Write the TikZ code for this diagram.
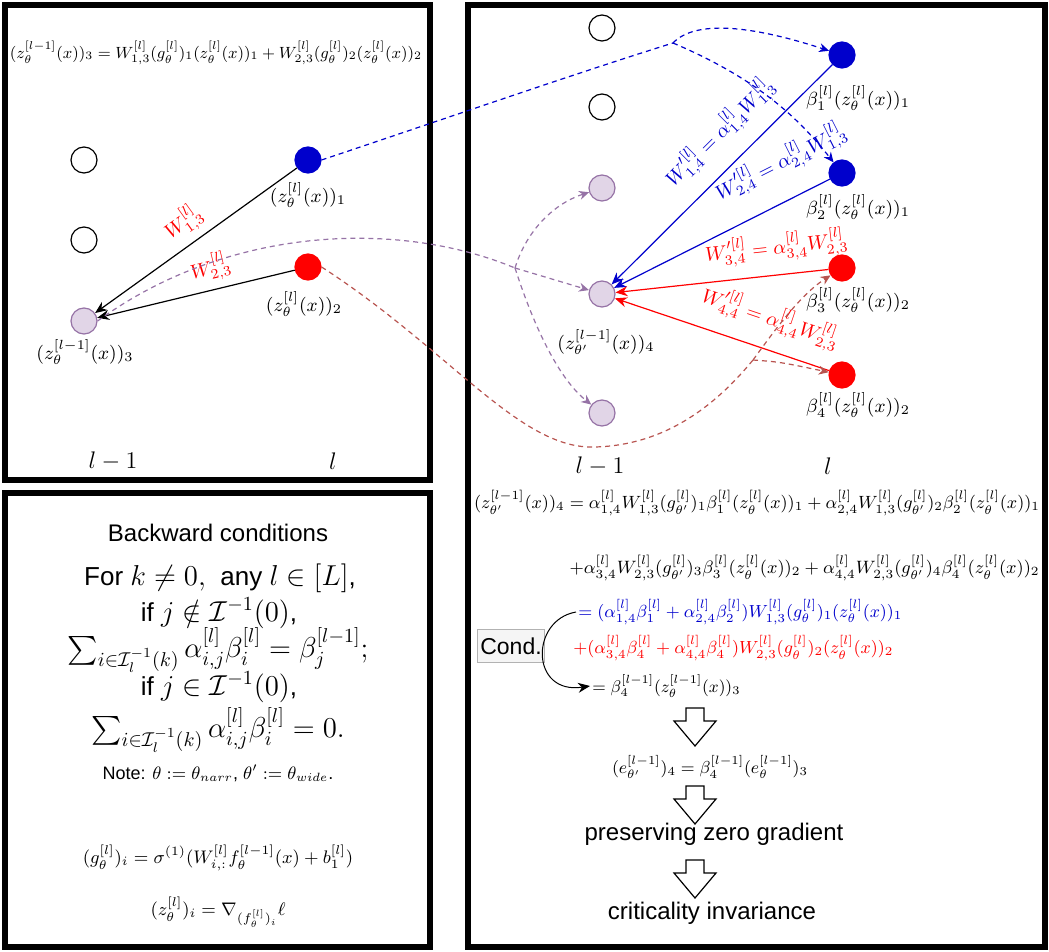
\RequirePackage{fix-cm}
\documentclass[tikz,border=0pt]{standalone}
\usepackage{amsmath, amssymb}
\usepackage{fontspec}
\setsansfont{Liberation Sans}
\usetikzlibrary{arrows.meta}

\definecolor{nblue}{HTML}{0000CC}
\definecolor{nred}{HTML}{FF0000}
\definecolor{npurple}{HTML}{9673A6}
\definecolor{npurplefill}{HTML}{E1D5E7}
\definecolor{nbrown}{HTML}{B85450}

\newcommand{\condmath}[1]{{\fontsize{14.4}{17}\selectfont$#1$}}
\newcommand{\fitto}[2]{\resizebox{#1}{!}{$#2$}}

\tikzset{
  panel/.style={line width=2.6pt},
  emptyn/.style={circle, draw, line width=0.6pt, minimum size=13pt, inner sep=0pt},
  purplen/.style={emptyn, draw=npurple, fill=npurplefill},
  bluen/.style={emptyn, draw=nblue, fill=nblue},
  redn/.style={emptyn, draw=nred, fill=nred},
  zlab/.style={font=\fontsize{9.5}{11}\selectfont},
  wlab/.style={font=\fontsize{10}{12}\selectfont, sloped},
  eqline/.style={font=\fontsize{9.1}{11}\selectfont, inner sep=1pt},
  dline/.style={dash pattern=on 2.5pt off 2pt, line width=0.6pt},
  dtip/.style={-{Stealth[length=5pt, width=4.5pt]}},
  wtip/.style={-{Stealth[length=6pt, width=5pt]}, line width=0.6pt},
  sftxt/.style={font=\fontsize{12}{14}\selectfont\sffamily},
  condtxt/.style={font=\fontsize{13}{15}\selectfont\sffamily},
  summ/.style={font=\fontsize{14.4}{17}\selectfont},
  bigarrow/.style={draw, line width=0.6pt, fill=white},
}

\begin{document}
\begin{tikzpicture}[x=0.5pt, y=-0.5pt]
\useasboundingbox (0,0) rectangle (1049,952);

% --- panels ---
\draw[panel] (5,5) rectangle (430,480);
\draw[panel] (5,493) rectangle (430,947);
\draw[panel] (468,5) rectangle (1045,947);

% --- top left: narrow network ---
\node[emptyn] (a1) at (84,160) {};
\node[emptyn] (a2) at (84,240) {};
\node[purplen] (a3) at (84,321) {};
\node[bluen] (b1) at (308,160) {};
\node[redn] (b2) at (308,267) {};

\node[zlab] (la3) at (85,352) {$(z_\theta^{[l-1]}(x))_3$};
\node[zlab] (lb1) at (308,195) {$(z_\theta^{[l]}(x))_1$};
\node[zlab] (lb2) at (304,304) {$(z_\theta^{[l]}(x))_2$};

\node[font=\fontsize{12}{14}\selectfont] (layA) at (113,461) {$l-1$};
\node[font=\fontsize{12}{14}\selectfont] (layB) at (333,461) {$l$};

\node[eqline] (eqa) at (216,53) {\fitto{206pt}{(z_\theta^{[l-1]}(x))_3 = W_{1,3}^{[l]}(g_\theta^{[l]})_1(z_\theta^{[l]}(x))_1 + W_{2,3}^{[l]}(g_\theta^{[l]})_2(z_\theta^{[l]}(x))_2}};

\draw[wtip] (b1) -- (a3) node[wlab, pos=0.5, above, text=nred] {$W_{1,3}^{[l]}$};
\draw[wtip] (b2) -- (a3) node[wlab, pos=0.4, above, text=nred] {$W_{2,3}^{[l]}$};

% --- right: wide network ---
\node[emptyn] (c1) at (602,28) {};
\node[emptyn] (c2) at (602,107) {};
\node[purplen] (c3) at (602,188) {};
\node[purplen] (c4) at (602,294) {};
\node[purplen] (c5) at (602,413) {};
\node[bluen] (d1) at (842,55) {};
\node[bluen] (d2) at (842,173) {};
\node[redn] (d3) at (842,268) {};
\node[redn] (d4) at (842,375) {};

\node[zlab] (lc4) at (606,342) {$(z_{\theta'}^{[l-1]}(x))_4$};
\node[zlab] (ld1) at (858,98) {$\beta_1^{[l]}(z_\theta^{[l]}(x))_1$};
\node[zlab] (ld2) at (858,207) {$\beta_2^{[l]}(z_\theta^{[l]}(x))_1$};
\node[zlab] (ld3) at (858,300) {$\beta_3^{[l]}(z_\theta^{[l]}(x))_2$};
\node[zlab] (ld4) at (858,405) {$\beta_4^{[l]}(z_\theta^{[l]}(x))_2$};

\node[font=\fontsize{12}{14}\selectfont] (layC) at (600,466) {$l-1$};
\node[font=\fontsize{12}{14}\selectfont] (layD) at (828,466) {$l$};

\draw[wtip, nblue] (d1) -- (c4) node[wlab, pos=0.41, above, inner sep=8pt] {$W'^{[l]}_{1,4} = \alpha^{[l]}_{1,4}W^{[l]}_{1,3}$};
\draw[wtip, nblue] (d2) -- (c4) node[wlab, pos=0.15, above, inner sep=11pt] {$W'^{[l]}_{2,4} = \alpha^{[l]}_{2,4}W^{[l]}_{1,3}$};
\draw[wtip, nred] (d3) -- (c4) node[wlab, pos=0.23, above, inner sep=6pt] {$W'^{[l]}_{3,4} = \alpha^{[l]}_{3,4}W^{[l]}_{2,3}$};
\draw[wtip, nred] (d4) -- (c4) node[wlab, pos=0.32, above, inner sep=8pt] {$W'^{[l]}_{4,4} = \alpha^{[l]}_{4,4}W^{[l]}_{2,3}$};

% --- dashed correspondences ---
\coordinate (bj) at (673,43);
\coordinate (pj) at (515,268);
\coordinate (rj) at (753,360);

\draw[dline, nblue] (b1.east) .. controls (450,117) and (580,72) .. (bj);
\draw[dline, dtip, nblue] (bj) .. controls (695,20) and (750,25) .. (d1);
\draw[dline, dtip, nblue] (bj) .. controls (760,80) and (800,120) .. (d2);

\draw[dline, npurple] (a3.east) .. controls (230,225) and (400,220) .. (pj);
\draw[dline, dtip, npurple] (pj) .. controls (525,235) and (550,205) .. (c3);
\draw[dline, dtip, npurple] (pj) -- (c4);
\draw[dline, dtip, npurple] (pj) .. controls (535,330) and (560,380) .. (c5);

\draw[dline, nbrown] (b2.east) .. controls (450,350) and (520,450) .. (595,447)
  .. controls (670,445) and (720,400) .. (rj);
\draw[dline, dtip, nbrown] (rj) .. controls (775,330) and (800,295) .. (d3);
\draw[dline, dtip, nbrown] (rj) .. controls (780,362) .. (d4);

% --- equations ---
\node[eqline] (eq1) at (757,503) {\fitto{283pt}{(z_{\theta'}^{[l-1]}(x))_4 = \alpha^{[l]}_{1,4}W^{[l]}_{1,3}(g^{[l]}_{\theta'})_1\beta^{[l]}_1(z^{[l]}_\theta(x))_1 + \alpha^{[l]}_{2,4}W^{[l]}_{1,3}(g^{[l]}_{\theta'})_2\beta^{[l]}_2(z^{[l]}_\theta(x))_1}};
\node[eqline, anchor=east] (eq2) at (1042,568) {\fitto{235pt}{+\alpha^{[l]}_{3,4}W^{[l]}_{2,3}(g^{[l]}_{\theta'})_3\beta^{[l]}_3(z^{[l]}_\theta(x))_2 + \alpha^{[l]}_{4,4}W^{[l]}_{2,3}(g^{[l]}_{\theta'})_4\beta^{[l]}_4(z^{[l]}_\theta(x))_2}};
\node[eqline, anchor=west, text=nblue] (eq3) at (576,612) {\fitto{162pt}{= (\alpha^{[l]}_{1,4}\beta^{[l]}_1 + \alpha^{[l]}_{2,4}\beta^{[l]}_2)W^{[l]}_{1,3}(g^{[l]}_\theta)_1(z^{[l]}_\theta(x))_1}};
\node[eqline, anchor=west, text=nred] (eq4) at (571,648) {\fitto{160pt}{+(\alpha^{[l]}_{3,4}\beta^{[l]}_4 + \alpha^{[l]}_{4,4}\beta^{[l]}_4)W^{[l]}_{2,3}(g^{[l]}_\theta)_2(z^{[l]}_\theta(x))_2}};
\node[eqline, anchor=west] (eq5) at (590,686) {\fitto{74pt}{= \beta^{[l-1]}_4(z^{[l-1]}_\theta(x))_3}};

\node[draw=gray!60, fill=gray!8, inner xsep=1.5pt, inner ysep=4pt, font=\fontsize{11.5}{13}\selectfont\sffamily] (cond) at (511,646) {Cond.};
\draw[wtip, line width=0.5pt] (eq3.west) .. controls (530,620) and (530,695) .. (eq5.west);

% --- conclusion chain ---
\foreach \yy in {708,786,860}
  \draw[bigarrow] (686,\yy) -- (704,\yy) -- (704,\yy+13) -- (716,\yy+13) -- (695,\yy+38)
    -- (674,\yy+13) -- (686,\yy+13) -- cycle;
\node[eqline] (e1) at (710,767) {\fitto{98pt}{(e^{[l-1]}_{\theta'})_4 = \beta^{[l-1]}_4(e^{[l-1]}_\theta)_3}};
\node[sftxt] (t1) at (714,834) {preserving zero gradient};
\node[sftxt] (t2) at (712,913) {criticality invariance};

% --- bottom left: conditions ---
\node[sftxt] (h0) at (218,533) {Backward conditions};
\node[condtxt] (h1) at (220,578) {For \condmath{k\neq 0,}\ \ any \condmath{l\in[L]},};
\node[condtxt] (h2) at (219,613) {if \condmath{j\notin\mathcal{I}^{-1}(0)},};
\node[summ] (h3) at (218,650) {$\sum_{i\in\mathcal{I}_l^{-1}(k)}\alpha^{[l]}_{i,j}\beta^{[l]}_i = \beta^{[l-1]}_j$;};
\node[condtxt] (h4) at (219,687) {if \condmath{j\in\mathcal{I}^{-1}(0)},};
\node[summ] (h5) at (218,730) {$\sum_{i\in\mathcal{I}_l^{-1}(k)}\alpha^{[l]}_{i,j}\beta^{[l]}_i = 0.$};
\node[font=\fontsize{9}{11}\selectfont\sffamily] (h6) at (218,773) {Note: $\theta := \theta_{narr}$, $\theta' := \theta_{wide}$.};
\node[eqline] (h7) at (218,858) {$(g^{[l]}_\theta)_i = \sigma^{(1)}(W^{[l]}_{i,:}f^{[l-1]}_\theta(x) + b^{[l]}_1)$};
\node[eqline] (h8) at (218,912) {$(z^{[l]}_\theta)_i = \nabla_{(f^{[l]}_\theta)_i}\ell$};

\end{tikzpicture}
\end{document}
